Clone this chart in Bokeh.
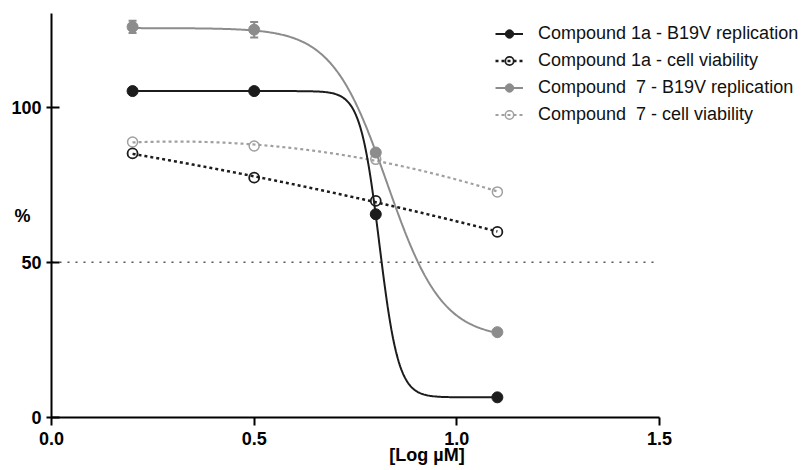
import numpy as np
from bokeh.plotting import figure
from bokeh.models import (Range1d, FixedTicker, Legend, LegendItem,
                          Whisker, TeeHead, ColumnDataSource, NumeralTickFormatter)
from bokeh.embed import file_html
from bokeh.resources import INLINE

# ---- data ----
log_conc = [0.2, 0.5, 0.8, 1.1]
rep_1a = [105.2, 105.2, 65.5, 6.5]
via_1a = [85.1, 77.3, 69.8, 59.8]
rep_7 = [125.9, 125.0, 85.4, 27.5]
rep_7_err = [2.0, 2.5, 0.0, 0.0]
via_7 = [88.8, 87.5, 83.2, 72.7]

# sigmoidal (4PL) fit parameters for the replication curves: [1a, 7]
fit_top = [105.2, 125.5]
fit_bottom = [6.5, 25.5]
fit_logec50 = [0.809, 0.828]
fit_hill = [18.5, 6.4]

series_labels = ["Compound 1a - B19V replication",
                 "Compound 1a - cell viability",
                 "Compound  7 - B19V replication",
                 "Compound  7 - cell viability"]
x_ticks = [0.0, 0.5, 1.0, 1.5]
y_ticks = [0, 50, 100]
threshold = 50

# ---- figure ----
p = figure(width=802, height=470, output_backend="svg", toolbar_location=None,
           x_range=Range1d(0, 1.8528), y_range=Range1d(0, 130.2),
           min_border_left=51, min_border_right=0, min_border_top=13,
           min_border_bottom=53)
p.outline_line_color = None
p.xgrid.visible = False
p.ygrid.visible = False
p.background_fill_color = "white"

xs = np.linspace(log_conc[0], log_conc[-1], 400)

def fourpl(x, i):
    return fit_bottom[i] + (fit_top[i] - fit_bottom[i]) / (1 + 10 ** ((x - fit_logec50[i]) * fit_hill[i]))

c_via1a = np.polyval(np.polyfit(log_conc, via_1a, 2), xs)
c_via7 = np.polyval(np.polyfit(log_conc, via_7, 2), xs)

BLACK = "#1c1c1c"
GRAY = "#8c8c8c"
LGRAY = "#a0a0a0"

# threshold dotted line
p.line([x_ticks[0], x_ticks[-1]], [threshold, threshold], line_color="#555555",
       line_width=1.5, line_dash="2 6")

l_via7 = p.line(xs, c_via7, line_color=LGRAY, line_width=2.2, line_dash="3 3")
l_via1a = p.line(xs, c_via1a, line_color=BLACK, line_width=2.5, line_dash="3 3")
l_rep7 = p.line(xs, fourpl(xs, 1), line_color=GRAY, line_width=2)
l_rep1a = p.line(xs, fourpl(xs, 0), line_color=BLACK, line_width=2)

# error bars
eb_x = [x for x, e in zip(log_conc, rep_7_err) if e > 0]
eb_u = [y + e for y, e in zip(rep_7, rep_7_err) if e > 0]
eb_l = [y - e for y, e in zip(rep_7, rep_7_err) if e > 0]
eb_src = ColumnDataSource(dict(x=eb_x, upper=eb_u, lower=eb_l))
p.add_layout(Whisker(source=eb_src, base="x", upper="upper", lower="lower",
                     line_color=GRAY, line_width=2,
                     upper_head=TeeHead(size=8, line_color=GRAY, line_width=2),
                     lower_head=TeeHead(size=8, line_color=GRAY, line_width=2)))

m_via7 = p.scatter(log_conc, via_7, marker="circle", size=10, fill_alpha=0,
                   line_color=LGRAY, line_width=1.5)
m_via1a = p.scatter(log_conc, via_1a, marker="circle", size=10, fill_alpha=0,
                    line_color=BLACK, line_width=1.8)
m_rep7 = p.scatter(log_conc, rep_7, marker="circle", size=11, fill_color=GRAY,
                   line_color=GRAY)
m_rep1a = p.scatter(log_conc, rep_1a, marker="circle", size=11, fill_color=BLACK,
                    line_color=BLACK)

# ---- axes ----
for ax in (p.xaxis[0], p.yaxis[0]):
    ax.axis_line_width = 2
    ax.axis_line_color = "black"
    ax.major_tick_line_width = 2
    ax.major_tick_line_color = "black"
    ax.minor_tick_line_color = None
    ax.major_label_text_font = "Liberation Sans"
    ax.major_label_text_font_style = "bold"
    ax.major_label_text_font_size = "18px"
    ax.major_label_text_color = "black"
    ax.axis_label_text_font = "Liberation Sans"
    ax.axis_label_text_font_style = "bold"
    ax.axis_label_text_font_size = "18px"
    ax.axis_label_text_color = "black"

p.xaxis.ticker = FixedTicker(ticks=x_ticks)
p.xaxis.formatter = NumeralTickFormatter(format="0.0")
p.xaxis.bounds = (x_ticks[0], x_ticks[-1])
p.xaxis.major_tick_in = 0
p.xaxis.major_tick_out = 8
p.xaxis.major_label_standoff = 6
p.xaxis.axis_label = "[Log µM]"
p.xaxis.axis_label_standoff = -3

p.yaxis.ticker = FixedTicker(ticks=y_ticks)
p.yaxis.major_tick_in = 8
p.yaxis.major_tick_out = 5
p.yaxis.major_label_standoff = 5
p.yaxis.axis_label = "%"
yax = p.yaxis[0]
if "axis_label_orientation" in yax.properties():
    yax.axis_label_orientation = "horizontal"
yax.axis_label_standoff = -22

# ---- legend ----
items = [LegendItem(label=series_labels[0], renderers=[l_rep1a, m_rep1a]),
         LegendItem(label=series_labels[1], renderers=[l_via1a, m_via1a]),
         LegendItem(label=series_labels[2], renderers=[l_rep7, m_rep7]),
         LegendItem(label=series_labels[3], renderers=[l_via7, m_via7])]
legend = Legend(items=items, location=(444, 292), border_line_alpha=0,
                background_fill_alpha=0, padding=0, margin=0, spacing=6,
                glyph_width=28, glyph_height=21, label_height=21,
                label_standoff=15, label_text_font="Liberation Sans",
                label_text_font_size="18px", label_text_color="#111111")
p.add_layout(legend)

open("out.html", "w").write(file_html(p, INLINE))
